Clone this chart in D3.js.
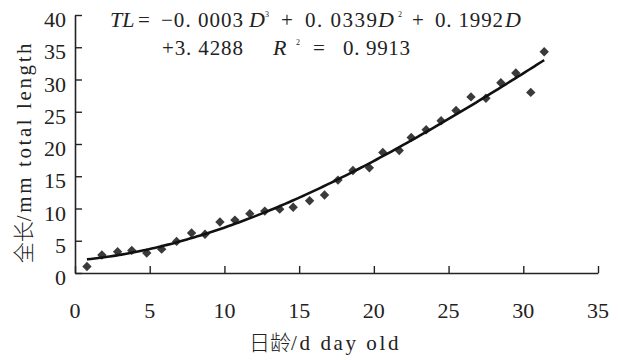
<!DOCTYPE html>
<html><head><meta charset="utf-8">
<script src="https://cdn.jsdelivr.net/npm/d3@7"></script>
</head><body style="margin:0">
<svg id="chart" width="618" height="360" font-family="Liberation Serif"></svg>
<script>
// ---- data ----
const days = [0.8,1.8,2.85,3.8,4.8,5.8,6.8,7.8,8.7,9.7,10.7,11.7,12.7,13.7,14.6,15.7,16.7,17.6,18.6,19.7,20.6,21.7,22.5,23.5,24.5,25.5,26.5,27.5,28.5,29.5,30.5,31.4];
const totalLength = [1.0,2.8,3.3,3.5,3.1,3.7,4.9,6.2,6.0,7.9,8.2,9.2,9.6,9.9,10.2,11.2,12.1,14.4,15.9,16.3,18.7,19.0,21.0,22.2,23.6,25.2,27.3,27.1,29.5,31.0,28.0,34.3];
const xTicks = [0,5,10,15,20,25,30,35];
const yTicks = [0,5,10,15,20,25,30,35,40];
const xTitleCJK = "日龄", xTitleLatin = "/d day old";
const yTitleCJK = "全长", yTitleLatin = "/mm total length";

const svg = d3.select("#chart");
const x = d3.scaleLinear().domain([0,35]).range([75,598]);
const y = d3.scaleLinear().domain([0,40]).range([273,15]);
const ink = "#222";
const SERIF = "Times New Roman";
const CJK = "Noto Sans CJK SC";

// axes
const xAxis = svg.append("g").attr("transform",`translate(0,${y(0)})`)
  .call(d3.axisBottom(x).tickValues(xTicks).tickSizeInner(-7).tickSizeOuter(0).tickFormat(""));
const yAxis = svg.append("g").attr("transform",`translate(${x(0)},0)`)
  .call(d3.axisLeft(y).tickValues(yTicks).tickSizeInner(-7).tickSizeOuter(0).tickFormat(""));
[xAxis,yAxis].forEach(g=>{
  g.selectAll("path.domain").attr("stroke",ink).attr("stroke-width",1.6);
  g.selectAll(".tick line").attr("stroke",ink).attr("stroke-width",1.4);
});
// tick labels
svg.append("g").selectAll("text").data(xTicks).join("text")
  .attr("x",d=>x(d)).attr("y",318).attr("text-anchor","middle")
  .attr("font-family",SERIF).attr("font-size",22).attr("fill",ink).text(d=>d);
svg.append("g").selectAll("text").data(yTicks).join("text")
  .attr("x",66).attr("y",d=>y(d)+12).attr("text-anchor","end")
  .attr("font-family",SERIF).attr("font-size",22).attr("fill",ink).text(d=>d);

// cubic least-squares trend line of the data
function polyfit(xs, ys, deg){
  const n = deg+1;
  const A = Array.from({length:n},()=>new Array(n+1).fill(0));
  for(let i=0;i<xs.length;i++){
    for(let r=0;r<n;r++){
      for(let c=0;c<n;c++) A[r][c]+=Math.pow(xs[i],r+c);
      A[r][n]+=ys[i]*Math.pow(xs[i],r);
    }
  }
  for(let p=0;p<n;p++){
    let m=p; for(let r=p+1;r<n;r++) if(Math.abs(A[r][p])>Math.abs(A[m][p])) m=r;
    [A[p],A[m]]=[A[m],A[p]];
    for(let r=0;r<n;r++){ if(r===p) continue; const f=A[r][p]/A[p][p];
      for(let c=p;c<=n;c++) A[r][c]-=f*A[p][c]; }
  }
  return A.map((row,i)=>row[n]/row[i]);
}
const coef = polyfit(days,totalLength,3);
const fit = t => coef.reduce((s,c,i)=>s+c*Math.pow(t,i),0);
const trend = d3.range(120+1).map(i=>{const t=days[0]+(days[days.length-1]-days[0])*i/120; return [t,fit(t)];});

// markers
svg.append("g").selectAll("path").data(days).join("path")
  .attr("transform",(d,i)=>`translate(${x(d)},${y(totalLength[i])})`)
  .attr("d",d3.symbol().type(d3.symbolDiamond2).size(56))
  .attr("fill","#3a3a3a");

svg.append("path").datum(trend)
  .attr("d",d3.line().x(d=>x(d[0])).y(d=>y(d[1])).curve(d3.curveBasis))
  .attr("fill","none").attr("stroke","#111").attr("stroke-width",2.6);

// equation
const eq = svg.append("g").attr("fill",ink);
function piece(txt,px,py,opt={}){
  const t = eq.append("text").attr("x",px).attr("y",py)
    .attr("font-family",SERIF).attr("font-size",opt.size||21).text(txt);
  if(opt.italic) t.attr("font-style","italic");
  if(opt.len) t.attr("textLength",opt.len).attr("lengthAdjust","spacing");
  return t;
}
piece("TL",110,27,{italic:true,size:22});
piece("=",138,27);
piece("−0. 0003",161,27,{len:82});
piece("D",249,27,{italic:true,size:22});
piece("3",265,17,{size:8});
piece("+",281,27);
piece("0. 0339",305,27,{len:72});
piece("D",378,27,{italic:true,size:22});
piece("2",398,17,{size:8});
piece("+",412,27);
piece("0. 1992",435,27,{len:68});
piece("D",505,27,{italic:true,size:22});
piece("+3. 4288",162,55,{len:81});
piece("R",273,55,{italic:true,size:22});
piece("2",296,45,{size:8});
piece("=",313,55);
piece("0. 9913",343,55,{len:67});

// axis titles
const xt = svg.append("text").attr("x",325).attr("y",350).attr("text-anchor","middle").attr("fill",ink);
xt.append("tspan").attr("font-family",CJK).attr("font-size",21).attr("font-weight",300).text(xTitleCJK);
xt.append("tspan").attr("font-family",SERIF).attr("font-size",21).attr("letter-spacing",2.6).text(xTitleLatin);

const yt = svg.append("text").attr("transform","translate(31,152) rotate(-90)").attr("text-anchor","middle").attr("fill",ink);
yt.append("tspan").attr("font-family",CJK).attr("font-size",21).attr("font-weight",300).text(yTitleCJK);
yt.append("tspan").attr("font-family",SERIF).attr("font-size",21).attr("letter-spacing",2.6).text(yTitleLatin);
</script>
</body></html>
